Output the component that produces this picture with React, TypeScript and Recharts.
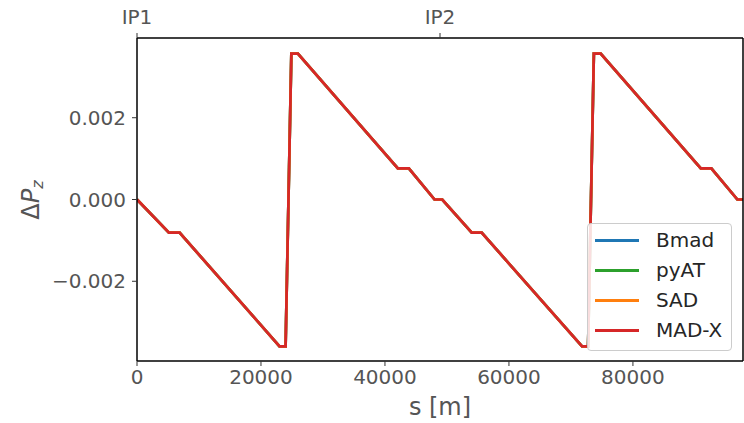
import React from 'react';
import { LineChart, Line, XAxis, YAxis, Legend, Label } from 'recharts';

// ring position s [m] and momentum deviation
const sPos = [
  0, 5150, 6870, 23000, 23970, 24900, 25950, 42080, 43850, 48000, 49240,
  54000, 55600, 71800, 72770, 73700, 74800, 90950, 92650, 96850, 97756,
];
const dpzBmad = [
  0, -0.00081, -0.00081, -0.00359, -0.00359, 0.00357, 0.00357, 0.00076, 0.00076, 0, 0,
  -0.00081, -0.00081, -0.00359, -0.00359, 0.00357, 0.00357, 0.00076, 0.00076, 0, 0,
];
const dpzPyAT = [...dpzBmad];
const dpzSAD = [...dpzBmad];
const dpzMADX = [...dpzBmad];

const xTicks = [0, 20000, 40000, 60000, 80000];
const yTicks = [-0.002, 0, 0.002];
const ipTicks = [0, 48878];
const ipLabels = ['IP1', 'IP2'];

const series = [
  { key: 'bmad', name: 'Bmad', color: '#1f77b4', values: dpzBmad },
  { key: 'pyat', name: 'pyAT', color: '#2ca02c', values: dpzPyAT },
  { key: 'sad', name: 'SAD', color: '#ff7f0e', values: dpzSAD },
  { key: 'madx', name: 'MAD-X', color: '#d62728', values: dpzMADX },
];

const data = sPos.map((s, i) => {
  const row: Record<string, number> = { s };
  series.forEach((ser) => {
    row[ser.key] = ser.values[i];
  });
  return row;
});

const FONT = '"DejaVu Sans", sans-serif';
const TICK_COLOR = '#555';
const axisLine = { stroke: '#000', strokeWidth: 1.5 };
const tickLine = { stroke: '#333', strokeWidth: 1 };

const fmtY = (v: number) => v.toFixed(3).replace('-', '\u2212');

const YLabel = () => (
  <text
    x={31}
    y={200}
    transform="rotate(-90 31 200)"
    textAnchor="middle"
    dominantBaseline="central"
    fontFamily={FONT}
    fontSize={24}
    fill={TICK_COLOR}
  >
    <tspan>Δ</tspan>
    <tspan fontStyle="italic">P</tspan>
    <tspan fontStyle="italic" fontSize={16} dy={6}>z</tspan>
  </text>
);

const XLabel = () => (
  <text x={440} y={415} textAnchor="middle" fontFamily={FONT} fontSize={24} fill={TICK_COLOR}>
    s [m]
  </text>
);

const LegendBox = () => (
  <div
    style={{
      boxSizing: 'border-box',
      width: 145,
      height: 128,
      border: '1px solid #ccc',
      borderRadius: 4,
      background: 'rgba(255,255,255,0.85)',
      paddingTop: 1,
      fontFamily: FONT,
      fontSize: 20,
      color: '#262626',
    }}
  >
    {series.map((ser) => (
      <div key={ser.key} style={{ display: 'flex', alignItems: 'center', height: 30 }}>
        <div style={{ marginLeft: 7, width: 44, height: 3, background: ser.color }} />
        <span style={{ marginLeft: 17 }}>{ser.name}</span>
      </div>
    ))}
  </div>
);

const App: React.FC = () => {
  return (
    <div style={{ position: 'absolute', left: 0, top: 0 }}>
      <LineChart width={744} height={423} data={data} margin={{ top: 0, right: 0, bottom: 0, left: 0 }}>
        <XAxis
          xAxisId="bottom"
          dataKey="s"
          type="number"
          domain={[0, 97756]}
          ticks={xTicks}
          height={62}
          tickSize={5}
          tickMargin={4}
          axisLine={axisLine}
          tickLine={tickLine}
          tick={{ fill: TICK_COLOR, fontSize: 20, fontFamily: FONT }}
          allowDataOverflow
        >
          <Label content={<XLabel />} />
        </XAxis>
        <XAxis
          xAxisId="top"
          orientation="top"
          dataKey="s"
          type="number"
          domain={[0, 97756]}
          ticks={ipTicks}
          tickFormatter={(v: number) => ipLabels[ipTicks.indexOf(v)] ?? ''}
          height={38}
          tickSize={5}
          tickMargin={9}
          axisLine={axisLine}
          tickLine={tickLine}
          tick={{ fill: TICK_COLOR, fontSize: 20, fontFamily: FONT }}
          allowDataOverflow
        />
        <YAxis
          yAxisId="left"
          type="number"
          domain={[-0.00395, 0.00395]}
          ticks={yTicks}
          tickFormatter={fmtY}
          width={137}
          tickSize={5}
          tickMargin={6}
          axisLine={axisLine}
          tickLine={tickLine}
          tick={{ fill: TICK_COLOR, fontSize: 20, fontFamily: FONT }}
          allowDataOverflow
        >
          <Label content={<YLabel />} />
        </YAxis>
        <YAxis
          yAxisId="right"
          orientation="right"
          type="number"
          domain={[-0.00395, 0.00395]}
          width={1}
          tick={false}
          tickLine={false}
          axisLine={axisLine}
        />
        {series.map((ser) => (
          <Line
            key={ser.key}
            xAxisId="bottom"
            yAxisId="left"
            type="linear"
            dataKey={ser.key}
            name={ser.name}
            stroke={ser.color}
            strokeWidth={2.7}
            dot={false}
            isAnimationActive={false}
          />
        ))}
        <Legend
          layout="horizontal"
          verticalAlign="middle"
          align="center"
          content={<LegendBox />}
          wrapperStyle={{ left: 587, top: 223, width: 145, height: 128 }}
        />
      </LineChart>
    </div>
  );
};

export default App;
